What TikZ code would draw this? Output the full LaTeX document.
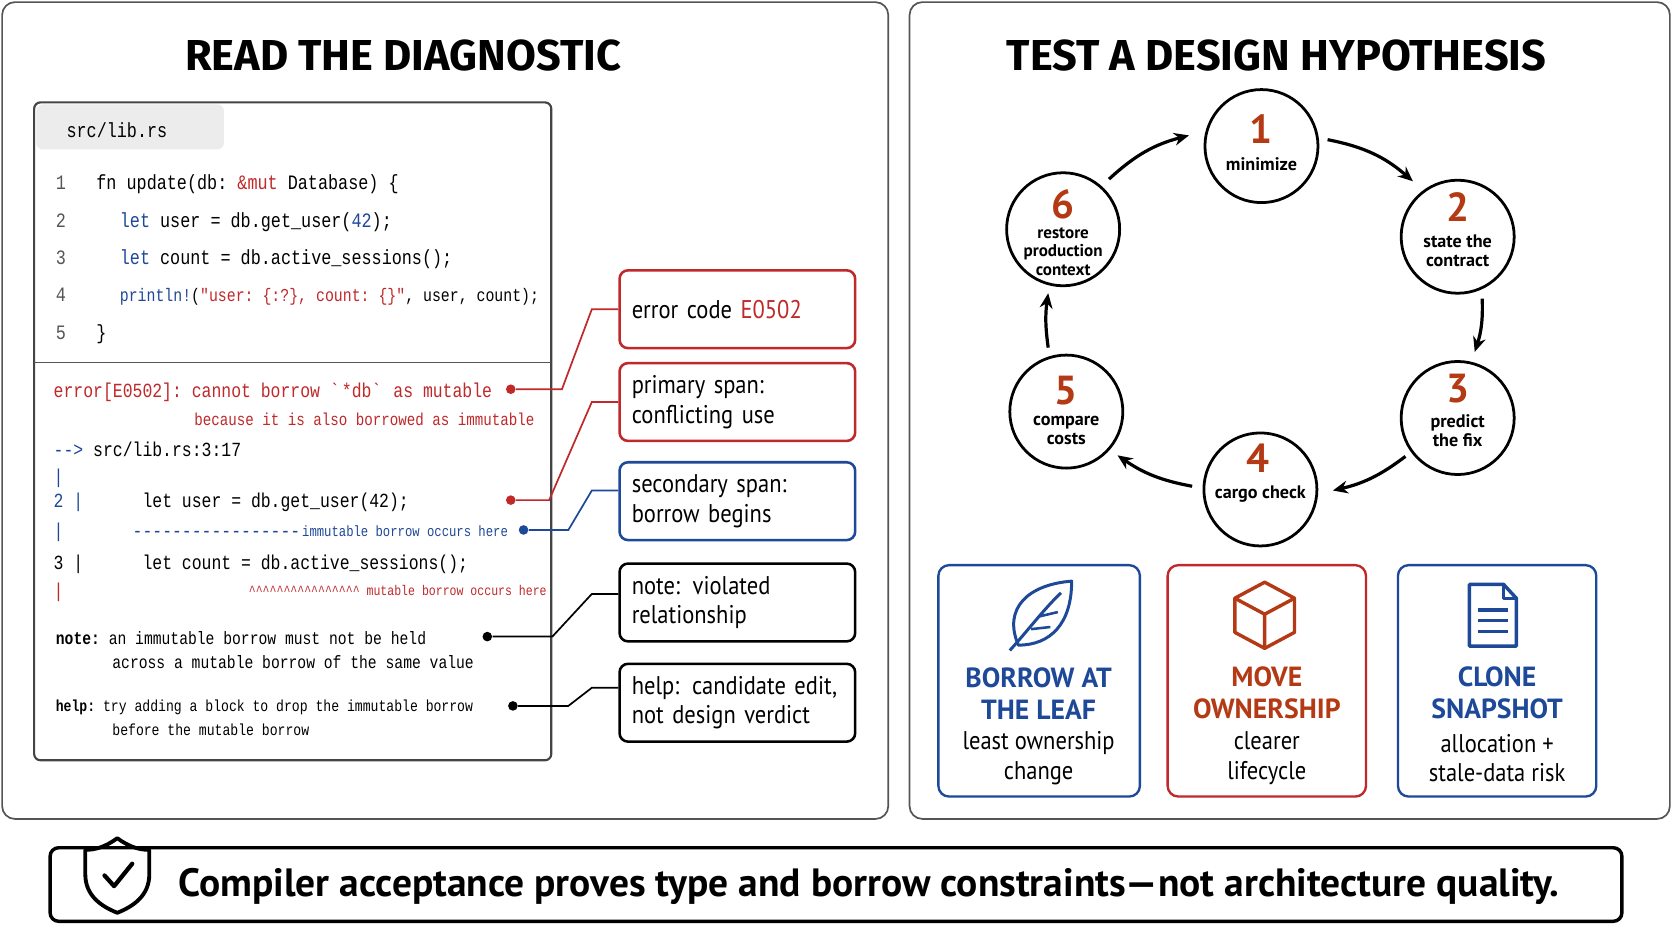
\documentclass[tikz,border=0pt]{standalone}
\usepackage{fontspec}
\setmainfont{PT Sans}
\setsansfont{PT Sans}
\setmonofont[FakeStretch=0.82]{Liberation Mono}
\newfontfamily\titlefont{Fira Sans}
\newfontfamily\condsans[FakeStretch=0.88]{PT Sans}
\usetikzlibrary{arrows.meta}
\definecolor{rd}{HTML}{C0282A}
\definecolor{bl}{HTML}{1E4898}
\definecolor{og}{HTML}{B33A14}
\definecolor{gr}{HTML}{555555}
\tikzset{
 panel/.style={draw=gr,line width=0.8pt,rounded corners=6pt},
 ttl/.style={font=\titlefont\bfseries\fontsize{20.3}{22}\selectfont},
 code/.style={anchor=base west,inner sep=0,font=\ttfamily\fontsize{9.6}{10}\selectfont},
 err/.style={anchor=base west,inner sep=0,font=\ttfamily\fontsize{9.4}{10}\selectfont},
 sm/.style={anchor=base west,inner sep=0,font=\ttfamily\fontsize{7}{8}\selectfont},
 nt/.style={anchor=base west,inner sep=0,font=\ttfamily\fontsize{8.4}{10}\selectfont},
 co/.style={rounded corners=4pt,line width=1.2pt,minimum width=110.5pt,minimum height=36.5pt,align=left,text width=99pt,font=\condsans\fontsize{12}{14}\selectfont},
 lk/.style={line width=0.8pt},
 dt/.style={circle,fill,inner sep=0,minimum size=4.5pt},
 cyc/.style={circle,draw,line width=1.3pt,minimum size=53pt,inner sep=0},
 cyt/.style={align=center,inner sep=0,font=\bfseries\fontsize{8.5}{9}\selectfont},
 num/.style={inner sep=0,text=og,font=\bfseries\fontsize{19}{19}\selectfont},
 ca/.style={-{Stealth[length=7pt,width=6pt]},line width=1.5pt},
 card/.style={rounded corners=5pt,line width=1.1pt},
 cardt/.style={align=center,font=\bfseries\fontsize{13}{15}\selectfont},
 cards/.style={align=center,font=\condsans\fontsize{12}{14}\selectfont},
}
\begin{document}
\begin{tikzpicture}[x=0.5pt,y=-0.5pt]
\useasboundingbox[fill=white] (0,0) rectangle (1568,882);
% left panel
\draw[panel] (2,2) rectangle (833,768);
\node[ttl] (t1) at (378,52) {READ THE DIAGNOSTIC};
\draw[line width=1pt,rounded corners=3pt,draw=gr!80!black] (32,96) rectangle (517,713);
\fill[gray!15,rounded corners=3pt] (34,98) rectangle (210,140);
\node[code] (tab) at (62,129) {src/lib.rs};
\draw[line width=0.8pt,gr] (32,340) -- (517,340);
\foreach \n/\y in {1/178,2/213,3/248,4/283,5/318}{\node[code,text=gr] (ln\n) at (52,\y) {\n};}
\node[code] (c1) at (90,178) {fn update(db: \textcolor{rd}{\&mut} Database) \{};
\node[code] (c2) at (112,213) {\textcolor{bl}{let} user = db.get\_user(\textcolor{bl}{42});};
\node[code] (c3) at (112,248) {\textcolor{bl}{let} count = db.active\_sessions();};
\node[code,font=\ttfamily\fontsize{8.5}{10}\selectfont] (c4) at (112,283) {\textcolor{bl}{println!}(\textcolor{rd}{"user: \{:?\}, count: \{\}"}, user, count);};
\node[code] (c5) at (90,318) {\}};
% error text
\node[err,text=rd] (e1) at (50,373) {error[E0502]: cannot borrow \textasciigrave*db\textasciigrave{} as mutable};
\node[err,text=rd,font=\ttfamily\fontsize{8.1}{10}\selectfont] (e2) at (182,399) {because it is also borrowed as immutable};
\node[err] (e3) at (50,428) {\textcolor{bl}{-->} src/lib.rs:3:17};
\node[err,text=bl] (e4) at (50,453) {|};
\node[err] (e5) at (50,476) {\textcolor{bl}{2 |}\ \ \ \ \ \ let user = db.get\_user(42);};
\node[err,text=bl] (e6) at (50,504) {|\ \ \ \ \ \ \ -----------------};
\node[sm,text=bl] (e6b) at (283,503) {immutable borrow occurs here};
\node[err] (e7) at (50,534) {3 |\ \ \ \ \ \ let count = db.active\_sessions();};
\node[err,text=rd] (e8) at (50,560) {|};
\node[sm,text=rd,font=\ttfamily\fontsize{6.6}{8}\selectfont] (e8b) at (233,558) {\textasciicircum\textasciicircum\textasciicircum\textasciicircum\textasciicircum\textasciicircum\textasciicircum\textasciicircum\textasciicircum\textasciicircum\textasciicircum\textasciicircum\textasciicircum\textasciicircum\textasciicircum\textasciicircum\ mutable borrow occurs here};
\node[nt] (e9) at (52,604) {\textbf{note:} an immutable borrow must not be held};
\node[nt] (e10) at (105,627) {across a mutable borrow of the same value};
\node[nt,font=\ttfamily\fontsize{7.5}{10}\selectfont] (e11) at (52,667) {\textbf{help:} try adding a block to drop the immutable borrow};
\node[nt,font=\ttfamily\fontsize{7.5}{10}\selectfont] (e12) at (105,690) {before the mutable borrow};
% dots
\node[dt,rd] (d1) at (479,365) {};
\node[dt,rd] (d2) at (479,469) {};
\node[dt,bl] (d3) at (491,497) {};
\node[dt] (d4) at (457,597) {};
\node[dt] (d5) at (481,662) {};
% callouts
\node[co,draw=rd] (b1) at (691.5,290) {error code \textcolor{rd}{E0502}};
\node[co,draw=rd] (b2) at (691.5,377) {primary span:\\conflicting use};
\node[co,draw=bl] (b3) at (691.5,470) {secondary span:\\borrow begins};
\node[co,draw=black] (b4) at (691.5,565) {note: violated\\relationship};
\node[co,draw=black] (b5) at (691.5,659) {help: candidate edit,\\not design verdict};
\draw[lk,rd] (d1) -- (527,365) -- (555,290) -- (b1.west);
\draw[lk,rd] (d2) -- (515,469) -- (555,377) -- (b2.west);
\draw[lk,bl] (d3) -- (533,497) -- (555,460) -- (b3.west |- 0,460);
\draw[lk] (d4) -- (518,597) -- (555,557) -- (b4.west |- 0,557);
\draw[lk] (d5) -- (533,662) -- (555,645) -- (b5.west |- 0,645);
% right panel
\draw[panel] (853,2) rectangle (1566,768);
\node[ttl] (t2) at (1197,52) {TEST A DESIGN HYPOTHESIS};
\node[cyc] (s1) at (1183,137) {};
\node[cyc] (s2) at (1367,222) {};
\node[cyc] (s3) at (1367,392) {};
\node[cyc] (s4) at (1182,459) {};
\node[cyc] (s5) at (1000,386) {};
\node[cyc] (s6) at (997,215) {};
\node[num] (n1) at (1183,121) {1}; \node[cyt] (l1) at (1183,154) {minimize};
\node[num] (n2) at (1367,194) {2}; \node[cyt] (l2) at (1367,235) {state the\\contract};
\node[num] (n3) at (1367,364) {3}; \node[cyt] (l3) at (1367,404) {predict\\the fix};
\node[num] (n4) at (1180,430) {4}; \node[cyt] (l4) at (1182,463) {cargo check};
\node[num] (n5) at (1000,366) {5}; \node[cyt] (l5) at (1000,404) {compare\\costs};
\node[num] (n6) at (997,192) {6}; \node[cyt,font=\bfseries\fontsize{8}{8.5}\selectfont] (l6) at (997,236) {restore\\production\\context};
\draw[ca] (1245,131) to[bend left=15] (1325,170);
\draw[ca] (1390,280) to[bend left=10] (1383,330);
\draw[ca] (1318,428) to[bend left=12] (1250,460);
\draw[ca] (1118,456) to[bend left=12] (1048,427);
\draw[ca] (983,326) to[bend left=8] (983,275);
\draw[ca] (1040,168) to[bend left=14] (1115,127);
% cards
\draw[card,bl] (880,530) rectangle (1069,747);
\draw[card,rd] (1095,530) rectangle (1281,747);
\draw[card,bl] (1311,530) rectangle (1497,747);
\node[cardt,text=bl] (k1) at (974,650) {BORROW AT\\THE LEAF};
\node[cards] (k1s) at (974,711) {least ownership\\change};
\node[cardt,text=og] (k2) at (1188,650) {MOVE\\OWNERSHIP};
\node[cards] (k2s) at (1188,711) {clearer\\lifecycle};
\node[cardt,text=bl] (k3) at (1404,650) {CLONE\\SNAPSHOT};
\node[cards] (k3s) at (1404,711) {allocation +\\stale-data risk};
% leaf icon
\draw[bl,line width=1.4pt,line join=round] (955,605) .. controls (940,570) and (965,548) .. (1005,545) .. controls (1005,585) and (985,605) .. (955,605) -- cycle;
\draw[bl,line width=1.4pt] (947,610) .. controls (965,590) and (980,570) .. (995,556);
\draw[bl,line width=1.2pt] (967,590) -- (985,588) (975,578) -- (992,574);
% cube icon
\begin{scope}[og,line width=1.6pt,line join=round]
\draw (1186,546) -- (1214,561) -- (1214,593) -- (1186,608) -- (1158,593) -- (1158,561) -- cycle;
\draw (1158,561) -- (1186,576) -- (1214,561) (1186,576) -- (1186,608);
\end{scope}
% document icon
\begin{scope}[bl,line width=1.6pt,line join=round]
\draw (1378,548) -- (1410,548) -- (1422,561) -- (1422,606) -- (1378,606) -- cycle;
\draw (1410,548) -- (1410,561) -- (1422,561);
\draw (1386,572) -- (1414,572) (1386,582) -- (1414,582) (1386,592) -- (1414,592);
\end{scope}
% banner
\draw[line width=1.6pt,rounded corners=4pt] (47,795) rectangle (1521,864);
\draw[line width=1.8pt,line join=round] (110,786) .. controls (98,795) and (88,797) .. (80,797) -- (80,820) .. controls (80,840) and (95,850) .. (110,856) .. controls (125,850) and (140,840) .. (140,820) -- (140,797) .. controls (132,797) and (122,795) .. (110,786) -- cycle;
\draw[line width=2pt,line cap=round,line join=round] (98,821) -- (107,831) -- (124,810);
\node[font=\bfseries\fontsize{18.5}{20}\selectfont] (ban) at (815,831) {Compiler acceptance proves type and borrow constraints—not architecture quality.};
\end{tikzpicture}
\end{document}
